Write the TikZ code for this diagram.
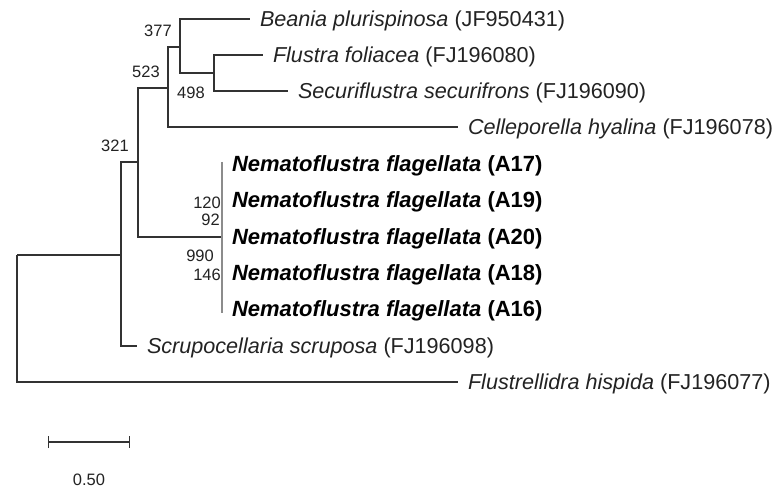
\documentclass[tikz,border=0pt]{standalone}
\usepackage{fontspec}
\setmainfont{Liberation Sans}
\usepackage{xcolor}
\definecolor{branchcol}{RGB}{50,50,50}
\definecolor{cladecol}{RGB}{140,140,140}
\definecolor{labelcol}{RGB}{35,35,35}
\usetikzlibrary{calc}
\usetikzlibrary{arrows.meta}

\begin{document}
\begin{tikzpicture}[x=1pt,y=-1pt,
      branch style/.style={draw=branchcol,line width=1.4pt},
      clade style/.style={draw=cladecol,line width=1.6pt},
      taxon style/.style={anchor=west,inner sep=0pt,outer xsep=10pt,
        text height=15.5pt,text depth=0pt,text=labelcol,
        font=\fontsize{21.6}{25}\selectfont},
      sample style/.style={taxon style,text=black,
        font=\fontsize{22}{25}\selectfont\bfseries},
      boot style/.style={inner sep=0pt,text=labelcol,
        font=\fontsize{16.5}{18}\selectfont}
      ]
      \useasboundingbox[fill=white] (0,0) rectangle (778,489);

      % inner nodes of the tree
      \coordinate (root) at (17,255);
      \coordinate (nscr) at (121,255);
      \coordinate (n321) at (138,162);
      \coordinate (n523) at (168,88);
      \coordinate (n377) at (180,47);
      \coordinate (n498) at (214,73);
      \coordinate (nnema) at (222,237);

      % taxa
      \node[taxon style] (bea) at (250,19) {\textit{Beania plurispinosa} (JF950431)};
      \node[taxon style] (flu) at (263,55) {\textit{Flustra foliacea} (FJ196080)};
      \node[taxon style] (sec) at (288,91) {\textit{Securiflustra securifrons} (FJ196090)};
      \node[taxon style] (cel) at (458,127) {\textit{Celleporella hyalina} (FJ196078)};
      \node[sample style] (a17) at (222,164) {\textit{Nematoflustra flagellata} (A17)};
      \node[sample style] (a19) at (222,200) {\textit{Nematoflustra flagellata} (A19)};
      \node[sample style] (a20) at (222,237) {\textit{Nematoflustra flagellata} (A20)};
      \node[sample style] (a18) at (222,273) {\textit{Nematoflustra flagellata} (A18)};
      \node[sample style] (a16) at (222,309) {\textit{Nematoflustra flagellata} (A16)};
      \node[taxon style] (scr) at (137,346) {\textit{Scrupocellaria scruposa} (FJ196098)};
      \node[taxon style] (flh) at (458,382) {\textit{Flustrellidra hispida} (FJ196077)};

      % branches
      \draw[branch style] (root) -- (nscr);
      \draw[branch style] (root) |- (flh);
      \draw[branch style] (nscr) |- (n321);
      \draw[branch style] (nscr) |- (scr);
      \draw[branch style] (n321) |- (n523);
      \draw[branch style] (n321) |- (nnema);
      \draw[branch style] (n523) |- (n377);
      \draw[branch style] (n523) |- (cel);
      \draw[branch style] (n377) |- (bea);
      \draw[branch style] (n377) |- (n498);
      \draw[branch style] (n498) |- (flu);
      \draw[branch style] (n498) |- (sec);
      \draw[clade style] ($(a17.west)+(0,-2)$) -- ($(a16.west)+(0,4)$);

      % bootstrap values
      \node[boot style] (b377) at (158,31) {377};
      \node[boot style] (b523) at (146,72) {523};
      \node[boot style] (b498) at (191,93) {498};
      \node[boot style] (b321) at (115,146) {321};
      \node[boot style,anchor=east] (b120) at (221,203) {120};
      \node[boot style,anchor=east] (b92) at (220,220) {92};
      \node[boot style,anchor=east] (b990) at (214,256) {990};
      \node[boot style,anchor=east] (b146) at (221,275) {146};

      % scale bar
      \coordinate (sbl) at (48,442);
      \coordinate (sbr) at (130,442);
      \draw[branch style,{Bar[width=12pt]}-{Bar[width=12pt]}] (sbl) -- (sbr);
      \node[boot style] (sblab) at (89,480) {0.50};
    \end{tikzpicture}
\end{document}
